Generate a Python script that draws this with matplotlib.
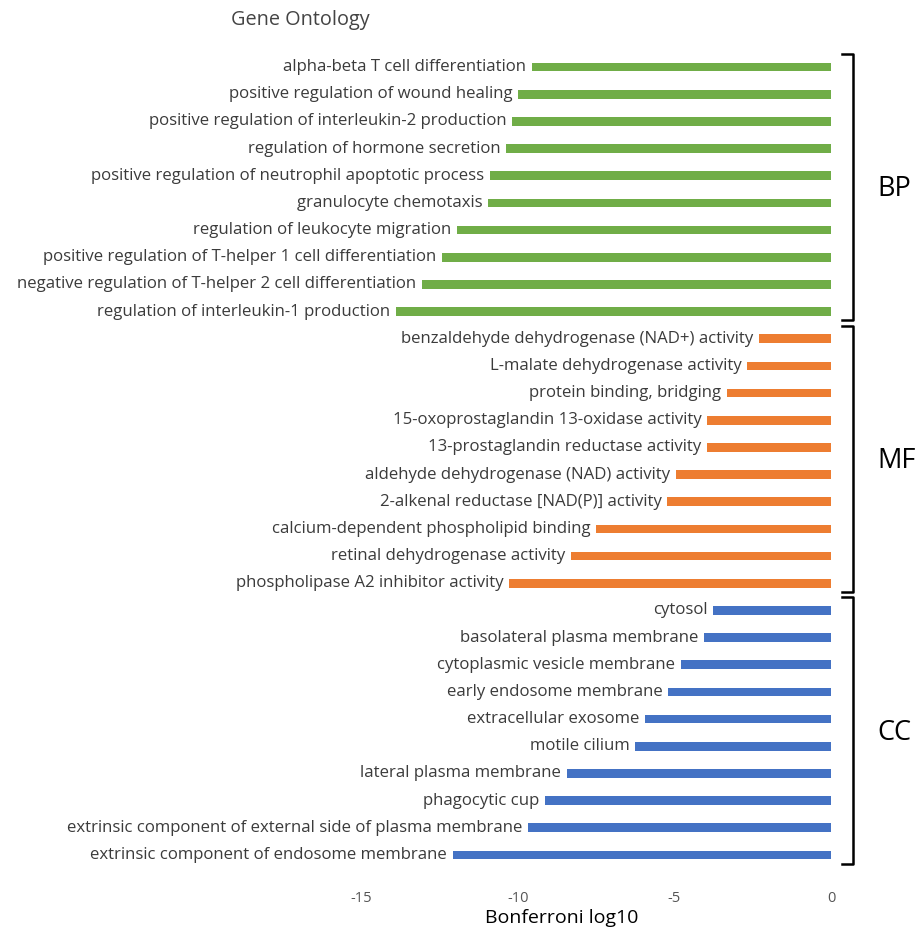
import numpy as np
import matplotlib
matplotlib.use("Agg")
import matplotlib.pyplot as plt

plt.rcParams['font.family'] = ['Open Sans', 'DejaVu Sans']

bp_terms = ["alpha-beta T cell differentiation",
            "positive regulation of wound healing",
            "positive regulation of interleukin-2 production",
            "regulation of hormone secretion",
            "positive regulation of neutrophil apoptotic process",
            "granulocyte chemotaxis",
            "regulation of leukocyte migration",
            "positive regulation of T-helper 1 cell differentiation",
            "negative regulation of T-helper 2 cell differentiation",
            "regulation of interleukin-1 production"]
bp_vals = [-9.55, -9.99, -10.18, -10.37, -10.88, -10.95, -11.94, -12.42, -13.05, -13.88]

mf_terms = ["benzaldehyde dehydrogenase (NAD+) activity",
            "L-malate dehydrogenase activity",
            "protein binding, bridging",
            "15-oxoprostaglandin 13-oxidase activity",
            "13-prostaglandin reductase activity",
            "aldehyde dehydrogenase (NAD) activity",
            "2-alkenal reductase [NAD(P)] activity",
            "calcium-dependent phospholipid binding",
            "retinal dehydrogenase activity",
            "phospholipase A2 inhibitor activity"]
mf_vals = [-2.30, -2.68, -3.32, -3.96, -3.96, -4.95, -5.23, -7.50, -8.30, -10.28]

cc_terms = ["cytosol",
            "basolateral plasma membrane",
            "cytoplasmic vesicle membrane",
            "early endosome membrane",
            "extracellular exosome",
            "motile cilium",
            "lateral plasma membrane",
            "phagocytic cup",
            "extrinsic component of external side of plasma membrane",
            "extrinsic component of endosome membrane"]
cc_vals = [-3.77, -4.05, -4.79, -5.20, -5.94, -6.26, -8.43, -9.13, -9.67, -12.07]

groups = ["BP", "MF", "CC"]
colors = ["#70AD47", "#ED7D31", "#4472C4"]
xticks = [-15, -10, -5, 0]

W, H = 921, 932
fig = plt.figure(figsize=(W / 100, H / 100), dpi=100)
# axes in pixel terms: x 10..831, y 40..880
ax = fig.add_axes([10 / W, 1 - 880 / H, (831 - 10) / W, (880 - 40) / H])

terms_all = [bp_terms, mf_terms, cc_terms]
vals_all = [bp_vals, mf_vals, cc_vals]
txtcol = "#3b3b3b"
pos = 0
for g, (terms, vals, col) in enumerate(zip(terms_all, vals_all, colors)):
    ys = np.arange(pos, pos + len(vals))
    ax.barh(ys, vals, height=0.32, color=col, edgecolor='none')
    for y, v, t in zip(ys, vals, terms):
        ax.annotate(t, (v, y), xytext=(-4, 0), textcoords='offset points',
                    ha='right', va='center', fontsize=12.1, color=txtcol)
    # bracket on the right of each group
    tr = ax.get_yaxis_transform()
    top, bot = ys[0] - 0.48, ys[-1] + 0.32
    bx = 1.027
    ax.plot([bx - 0.013, bx, bx, bx - 0.013], [top, top, bot, bot],
            transform=tr, color='black', lw=1.8, clip_on=False,
            solid_joinstyle='round')
    ax.text(bx + 0.03, (ys[0] + ys[-1]) / 2, groups[g], transform=tr,
            ha='left', va='center', fontsize=19.5, color='black')
    pos += len(vals)

n = pos
ax.set_ylim(29.92, -0.994)
ax.set_xlim(-26.2, 0)
ax.set_xticks(xticks)
ax.set_xticklabels([str(t) for t in xticks], color='#555555', fontsize=10.5)
ax.tick_params(axis='x', length=0, pad=8)
ax.set_yticks([])
for s in ax.spines.values():
    s.set_visible(False)

fig.text(300 / W, 1 - 20 / H, "Gene Ontology", ha='center', va='center',
         fontsize=14.3, color='#444444')
fig.text(562 / W, 1 - 918 / H, "Bonferroni log10", ha='center', va='center',
         fontsize=14, color='black')

fig.savefig("out.png", dpi=100)
